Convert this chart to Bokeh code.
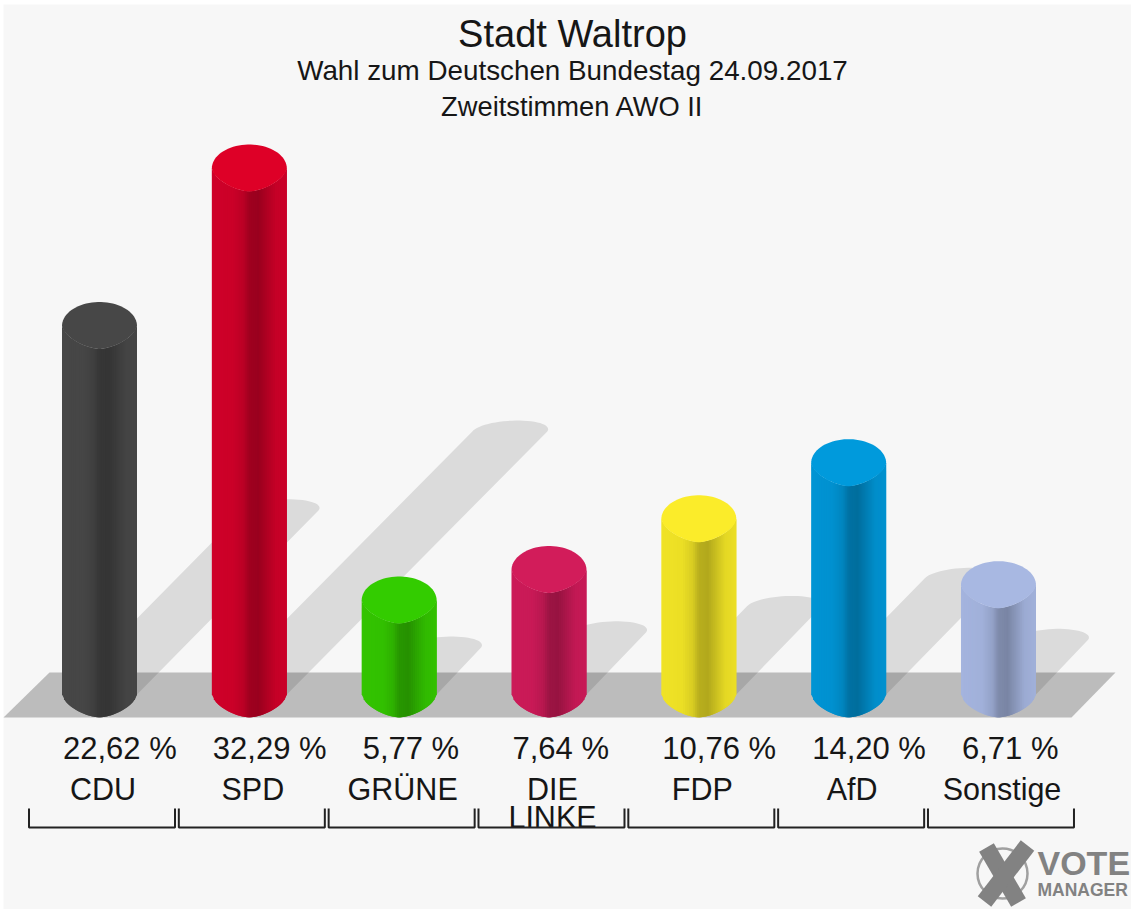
import numpy as np
from bokeh.plotting import figure
from bokeh.embed import file_html
from bokeh.resources import INLINE
from bokeh.core.properties import value

title_lines = ["Stadt Waltrop", "Wahl zum Deutschen Bundestag 24.09.2017", "Zweitstimmen AWO II"]
parties = ["CDU", "SPD", "GRÜNE", "DIE\nLINKE", "FDP", "AfD", "Sonstige"]
shares = [22.62, 32.29, 5.77, 7.64, 10.76, 14.20, 6.71]
share_labels = ["22,62 %", "32,29 %", "5,77 %", "7,64 %", "10,76 %", "14,20 %", "6,71 %"]
top_colors = ["#474747", "#de0027", "#33cc00", "#d21c5a", "#fbec2a", "#009adc", "#a8b8e2"]
side_colors = ["#474747", "#cf0029", "#33c400", "#cc1a58", "#f0e326", "#0094d4", "#a4b4de"]

W, H = 1131, 909
PX_X = 149.83      # px per category
PX_Y = 16.29       # px per percentage point
X0, Y0 = 99, 694   # first category and the zero line
FONT = "Liberation Sans"
INK = "#161616"
BG = "#f7f7f7"

p = figure(width=W, height=H, output_backend="svg", toolbar_location=None,
           x_range=(-X0 / PX_X, (W - X0) / PX_X),
           y_range=((Y0 - H) / PX_Y, Y0 / PX_Y),
           min_border=0, background_fill_color="#ffffff", border_fill_color="#ffffff",
           outline_line_color=None)
p.axis.visible = False
p.grid.visible = False

dx = lambda px: px / PX_X
dy = lambda px: px / PX_Y
R_X, R_Y = 37.5, 23.0
FRONT_P = 1.6      # front edges of the cylinders are a little pointed


def shade(col, f):
    c = [int(col[i:i + 2], 16) for i in (1, 3, 5)]
    return "#%02x%02x%02x" % tuple(int(round(min(255, v * f))) for v in c)


def front(a):
    return R_Y * (1 - abs(a) ** FRONT_P) ** (1 / FRONT_P)


# backdrop
p.quad(left=[dx(3 - X0)], right=[dx(W - X0)], top=[dy(Y0 - 4)], bottom=[dy(Y0 - H)],
       fill_color=BG, line_color=None)

# floor
p.patch([dx(3 - X0), dx(1071 - X0), dx(1115 - X0), dx(49 - X0)],
        [dy(Y0 - 717), dy(Y0 - 717), dy(Y0 - 672), dy(Y0 - 672)],
        fill_color="#bcbcbc", line_color=None)

# shadows
th = np.linspace(np.pi, 0, 30)
for i, v in enumerate(shares):
    d = v * PX_Y * 0.5
    xs = [i + dx(-R_X)] + list(i + dx(d - 2.5 + R_X * np.cos(th) + 8 * np.sin(th))) + [i + dx(R_X)]
    ys = [0] + list(dy(d + 11 * np.sin(th))) + [0]
    p.patch(xs, ys, fill_color="#000000", fill_alpha=0.11, line_color=None)

# cylinders
stops_t = [0.0, 0.28, 0.42, 0.50, 0.62, 0.85, 1.0]
stops_f = [1.0, 0.98, 0.90, 0.77, 0.74, 0.95, 0.98]
STRIPS = 38
for i, v in enumerate(shares):
    edges = np.linspace(-1, 1, STRIPS + 1)
    for k in range(STRIPS):
        a, b = edges[k], edges[min(k + 2, STRIPS)]   # overlap the next strip to avoid seams
        t = (edges[k] + edges[k + 1] + 2) / 4
        f = float(np.interp(t, stops_t, stops_f))
        xs = [i + dx(R_X * a), i + dx(R_X * b), i + dx(R_X * b), i + dx(R_X * a)]
        ys = [v - dy(front(a)), v - dy(front(b)), -dy(front(b)), -dy(front(a))]
        p.patch(xs, ys, fill_color=shade(side_colors[i], f), line_color=None)
    back = np.linspace(0, np.pi, 40)
    fr = np.linspace(-1, 1, 40)
    p.patch(list(i + dx(R_X * np.cos(back))) + list(i + dx(R_X * fr)),
            list(v + dy((R_Y + 1) * np.sin(back))) + [v - dy(front(a)) for a in fr],
            fill_color=top_colors[i], line_color=None)

# percentage labels
for i, s in enumerate(share_labels):
    p.text([i + dx(-36.5)], [dy(Y0 - 748)], text=[s], text_font=value(FONT), text_font_size="31px",
           text_color=INK, text_align="left", text_baseline="middle")

# party labels and brackets
for i, name in enumerate(parties):
    for j, part in enumerate(name.split("\n")):
        p.text([i + dx(3.5)], [dy(Y0 - 788 - 28 * j)], text=[part], text_font=value(FONT),
               text_font_size="30.5px", text_color=INK, text_align="center", text_baseline="middle")
    bx = [i + dx(-70.5), i + dx(-70.5), i + dx(75.5), i + dx(75.5)]
    by = [dy(Y0 - 808), dy(Y0 - 827), dy(Y0 - 827), dy(Y0 - 808)]
    p.line(bx, by, line_color="#222222", line_width=2)

# titles
for s, yp, size in zip(title_lines, (33, 70, 106), ("38px", "27.8px", "27.3px")):
    p.text([dx(572 - X0)], [dy(Y0 - yp)], text=[s], text_font=value(FONT), text_font_size=size,
           text_color=INK, text_align="center", text_baseline="middle")

# logo
LOGO = "#828282"
p.circle([dx(1002 - X0)], [dy(Y0 - 873)], radius=25, radius_units="screen", fill_color=None,
         line_color="#a0a0a0", line_width=2.5)
p.line([dx(986 - X0), dx(1018 - X0)], [dy(Y0 - 847), dy(Y0 - 902)], line_color=LOGO, line_width=17)
p.line([dx(1027 - X0), dx(984 - X0)], [dy(Y0 - 845), dy(Y0 - 901)], line_color=LOGO, line_width=17)
p.text([dx(1037 - X0)], [dy(Y0 - 862)], text=["VOTE"], text_font=value(FONT), text_font_size="34px",
       text_font_style="bold", text_color=LOGO, text_align="left", text_baseline="middle")
p.text([dx(1037 - X0)], [dy(Y0 - 889)], text=["MANAGER"], text_font=value(FONT), text_font_size="17.5px",
       text_font_style="bold", text_color=LOGO, text_align="left", text_baseline="middle")

open("out.html", "w").write(file_html(p, INLINE))
